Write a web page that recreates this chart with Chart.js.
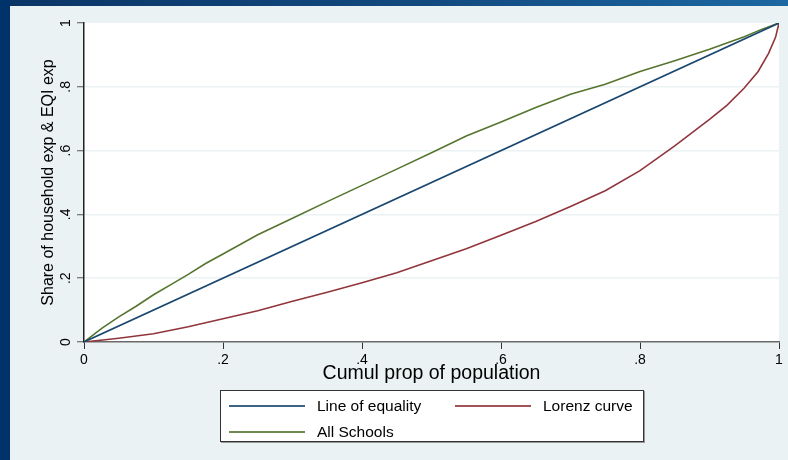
<!DOCTYPE html>
<html>
<head>
<meta charset="utf-8">
<script src="https://cdn.jsdelivr.net/npm/chart.js@4"></script>
<style>
  html, body { margin:0; padding:0; }
  body { width:788px; height:460px; position:relative; overflow:hidden; background:#EAF2F3; font-family:"Liberation Sans", Arial, sans-serif; }
  #topband { position:absolute; left:0; top:0; width:788px; height:6px; background:linear-gradient(to right, #0b3566 0%, #124a80 55%, #1c68a2 100%); }
  #leftband { position:absolute; left:0; top:0; width:10px; height:460px; background:#00336a; }
  #c { position:absolute; left:0; top:0; }
  #legend { position:absolute; left:220px; top:390px; width:422px; height:50px; background:#fff; border:1px solid #333; box-shadow:1px 1px 0 #999; font-size:15.5px; color:#000; }
  .item { position:absolute; height:20px; }
  .sw { position:absolute; top:9px; width:76px; height:2px; }
  .lb { position:absolute; left:88px; top:1px; white-space:nowrap; }
</style>
</head>
<body>
<div id="topband"></div>
<div id="leftband"></div>
<canvas id="c" width="788" height="460"></canvas>
<div id="legend"></div>
<script>
// ---- data ----
const seriesNames = ["Line of equality", "Lorenz curve", "All Schools"];
const seriesColors = ["#1A476F", "#90353B", "#55752F"];

const equalityX = [0, 1];
const equalityY = [0, 1];

const lorenzX = [0, .05, .1, .15, .2, .25, .3, .35, .4, .45, .5, .55, .6, .65, .7, .75, .8, .85, .9, .925, .95, .97, .985, .995, 1];
const lorenzY = [0, .012, .026, .048, .073, .098, .128, .156, .186, .217, .255, .292, .335, .378, .425, .474, .537, .615, .698, .742, .796, .848, .905, .955, 1];

const schoolsX = [0, .025, .05, .075, .1, .125, .15, .175, .2, .25, .3, .35, .4, .45, .5, .55, .6, .65, .7, .75, .8, .85, .9, .95, .975, 1];
const schoolsY = [0, .042, .079, .112, .148, .18, .212, .246, .276, .336, .388, .44, .491, .542, .593, .646, .69, .735, .777, .808, .848, .882, .918, .957, .98, 1];

const tickValues = [0, .2, .4, .6, .8, 1];
const tickLabels = ["0", ".2", ".4", ".6", ".8", "1"];

const xTitle = "Cumul prop of population";
const yTitle = "Share of household exp & EQI exp";

// ---- helpers ----
function pts(xs, ys) { return xs.map((x, i) => ({ x: x, y: ys[i] })); }
function fmt(v) {
  for (let i = 0; i < tickValues.length; i++) if (Math.abs(v - tickValues[i]) < 1e-6) return tickLabels[i];
  return "";
}
const FONT = '"Liberation Sans", Arial, sans-serif';

const plotBg = {
  id: 'plotBg',
  beforeDraw(chart) {
    const { ctx, chartArea: a } = chart;
    ctx.save();
    ctx.fillStyle = '#ffffff';
    ctx.fillRect(a.left, a.top, a.right - a.left, a.bottom - a.top);
    ctx.restore();
  }
};

const yLabels = {
  id: 'yLabels',
  afterDraw(chart) {
    const ctx = chart.ctx, s = chart.scales.y;
    ctx.save();
    ctx.font = '14px ' + FONT;
    ctx.fillStyle = '#000';
    ctx.textAlign = 'center';
    ctx.textBaseline = 'alphabetic';
    s.ticks.forEach(t => {
      const y = s.getPixelForValue(t.value);
      ctx.save();
      ctx.translate(70, y);
      ctx.rotate(-Math.PI / 2);
      ctx.fillText(fmt(t.value), 0, 0);
      ctx.restore();
    });
    ctx.restore();
  }
};

const datasets = [
  { label: seriesNames[0], data: pts(equalityX, equalityY), borderColor: seriesColors[0] },
  { label: seriesNames[1], data: pts(lorenzX, lorenzY), borderColor: seriesColors[1] },
  { label: seriesNames[2], data: pts(schoolsX, schoolsY), borderColor: seriesColors[2] }
].map(d => Object.assign(d, { showLine: true, pointRadius: 0, borderWidth: 1.6, tension: 0, fill: false }));

new Chart(document.getElementById('c'), {
  type: 'scatter',
  data: { datasets: datasets },
  options: {
    responsive: false,
    animation: false,
    events: [],
    layout: { padding: { top: 23, right: 9, left: 0, bottom: 0 } },
    plugins: { legend: { display: false }, tooltip: { enabled: false } },
    scales: {
      x: {
        type: 'linear', min: 0, max: 1,
        afterFit(s) { s.height = 118; },
        afterBuildTicks(s) { s.ticks = tickValues.map(v => ({ value: v })); },
        ticks: { callback: v => fmt(v), color: '#000', font: { size: 14, family: FONT }, padding: 3, maxRotation: 0 },
        grid: { drawOnChartArea: false, drawTicks: true, tickLength: 7, tickColor: '#333', tickWidth: 1 },
        border: { display: true, color: '#6a6a6a', width: 1.5 },
        title: { display: true, text: xTitle, color: '#000', font: { size: 19.5, family: FONT }, padding: { top: 0, bottom: 75 } }
      },
      y: {
        type: 'linear', min: 0, max: 1,
        afterFit(s) { s.width = 84; },
        afterBuildTicks(s) { s.ticks = tickValues.map(v => ({ value: v })); },
        ticks: { display: false },
        grid: {
          drawOnChartArea: true, drawTicks: true, tickLength: 7, tickWidth: 1,
          tickColor: '#555',
          color: c => (c.tick && (c.tick.value === 0 || c.tick.value === 1)) ? 'rgba(0,0,0,0)' : '#EAF2F3',
          lineWidth: 1.5
        },
        border: { display: true, color: '#222', width: 1.5 },
        title: { display: true, text: yTitle, color: '#000', font: { size: 16, family: FONT }, padding: { top: 39, bottom: 0 } }
      }
    }
  },
  plugins: [plotBg, yLabels]
});

// ---- legend (HTML) ----
const legendPos = [[8, 5], [234, 5], [8, 31]];
const leg = document.getElementById('legend');
seriesNames.forEach((n, i) => {
  const it = document.createElement('div');
  it.className = 'item';
  it.style.left = legendPos[i][0] + 'px';
  it.style.top = legendPos[i][1] + 'px';
  const sw = document.createElement('div');
  sw.className = 'sw';
  sw.style.background = seriesColors[i];
  sw.style.opacity = '0.85';
  const lb = document.createElement('div');
  lb.className = 'lb';
  lb.textContent = n;
  it.appendChild(sw); it.appendChild(lb);
  leg.appendChild(it);
});
</script>
</body>
</html>
